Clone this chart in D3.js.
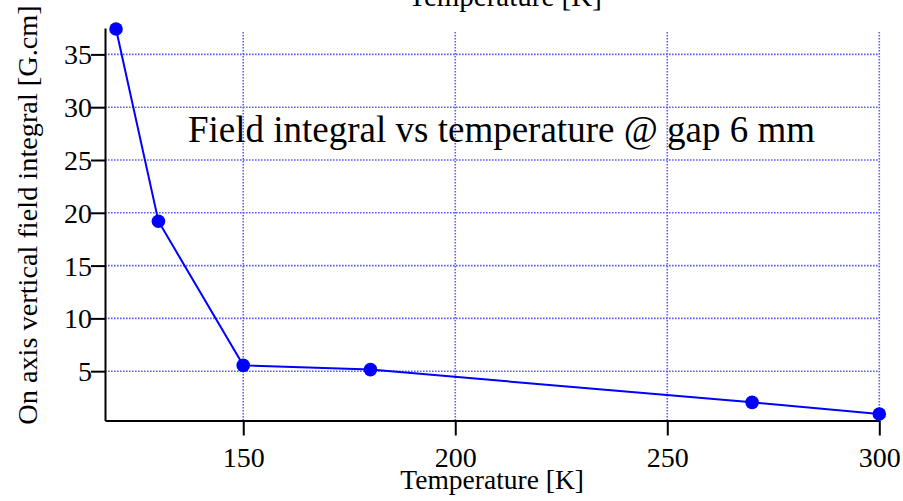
<!DOCTYPE html>
<html><head><meta charset="utf-8">
<script src="https://cdn.jsdelivr.net/npm/d3@7"></script>
<style>
html,body{margin:0;padding:0;background:#fff;}
svg{display:block;}
svg text{font-family:"Liberation Serif","Times New Roman",serif;}
</style></head>
<body>
<svg id="chart" width="903" height="501"></svg>
<script>
const temperatures = [120, 130, 150, 180, 270, 300];
const fieldIntegral = [37.4, 19.2, 5.55, 5.15, 2.05, 0.95];
const xTicks = [150, 200, 250, 300];
const yTicks = [5, 10, 15, 20, 25, 30, 35];
const xDomain = [117.4, 300];
const yDomain = [0.33, 37.5];
const titleText = "Field integral vs temperature @ gap 6 mm";
const xLabel = "Temperature [K]";
const yLabel = "On axis vertical field integral [G.cm]";

(function () {
const svg = d3.select("#chart");
const pL = 105, pR = 879.3, pT = 28, pB = 420.5;
const x = d3.scaleLinear().domain(xDomain).range([pL, pR]);
const y = d3.scaleLinear().domain(yDomain).range([pB, pT]);

// grid
const grid = svg.append("g").attr("stroke", "#5c5cff").attr("stroke-width", 1.6)
  .attr("stroke-dasharray", "1.6,1.4");
grid.selectAll("line.h").data(yTicks).enter().append("line")
  .attr("x1", pL).attr("x2", pR)
  .attr("y1", d => y(d)).attr("y2", d => y(d));
grid.selectAll("line.v").data(xTicks).enter().append("line")
  .attr("x1", d => x(d)).attr("x2", d => x(d))
  .attr("y1", 32).attr("y2", pB);

// axes
const xAxis = svg.append("g").attr("transform", `translate(0,${pB})`)
  .call(d3.axisBottom(x).tickValues(xTicks).tickSize(15).tickSizeOuter(0).tickFormat(d3.format("d")));
const yAxis = svg.append("g").attr("transform", `translate(${pL},0)`)
  .call(d3.axisLeft(y).tickValues(yTicks).tickSize(14).tickSizeOuter(0).tickPadding(-1).tickFormat(d3.format("d")));
[xAxis, yAxis].forEach(a => {
  a.attr("font-family", "Liberation Serif").attr("font-size", 28);
  a.select(".domain").attr("stroke", "#000").attr("stroke-width", 2);
  a.selectAll(".tick line").attr("stroke", "#000").attr("stroke-width", 2);
  a.selectAll(".tick text").attr("fill", "#000");
});
xAxis.selectAll(".tick text").attr("y", 46).attr("dy", 0);
yAxis.selectAll(".tick text").attr("dy", "0.34em");

// line + points
const pts = temperatures.map((t, i) => [t, fieldIntegral[i]]);
svg.append("path").datum(pts)
  .attr("fill", "none").attr("stroke", "#0000ff").attr("stroke-width", 2)
  .attr("d", d3.line().x(d => x(d[0])).y(d => y(d[1])));
svg.selectAll("circle.pt").data(pts).enter().append("circle")
  .attr("cx", d => x(d[0])).attr("cy", d => y(d[1])).attr("r", 6.8).attr("fill", "#0000ff");

// texts
svg.append("text").attr("x", 188).attr("y", 142).attr("font-size", 37).attr("fill", "#000").text(titleText);
svg.append("text").attr("x", (pL + pR) / 2).attr("y", 489).attr("text-anchor", "middle")
  .attr("font-size", 27.5).attr("fill", "#000").text(xLabel);
svg.append("text").attr("x", 505).attr("y", 6).attr("text-anchor", "middle")
  .attr("font-size", 29).attr("fill", "#000").text(xLabel);
svg.append("text").attr("transform", `translate(37,215) rotate(-90)`).attr("text-anchor", "middle")
  .attr("font-size", 28.3).attr("fill", "#000").text(yLabel);
})();
</script>
</body></html>
